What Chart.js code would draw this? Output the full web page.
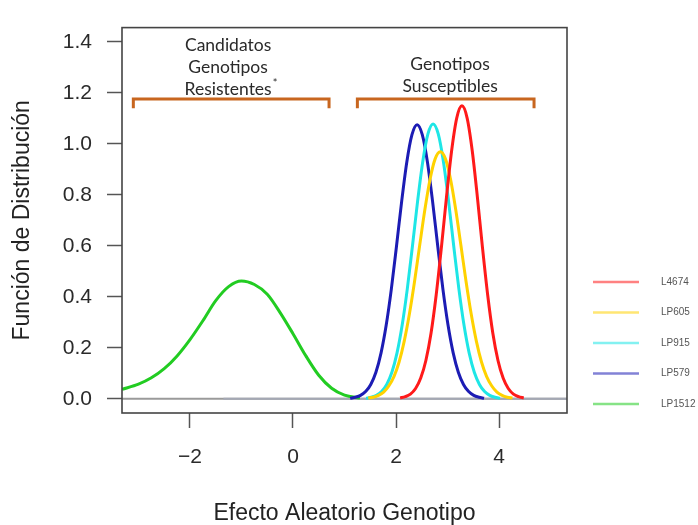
<!DOCTYPE html>
<html>
<head>
<meta charset="utf-8">
<script src="https://cdn.jsdelivr.net/npm/chart.js@4"></script>
<style>
  body { margin: 0; background: #fff; }
  canvas { display: block; }
</style>
</head>
<body>
<canvas id="densidad" width="698" height="525"></canvas>
<script>
// series labels (legend order)
const seriesLabels = ["L4674", "LP605", "LP915", "LP579", "LP1512"];

// L4674 (rojo)
const redX = [2.08, 2.18, 2.28, 2.38, 2.48, 2.58, 2.68, 2.78, 2.88, 2.98, 3.08, 3.18, 3.28, 3.38, 3.48, 3.58, 3.68, 3.78, 3.88, 3.98, 4.08, 4.18, 4.28, 4.38, 4.48];
const redY = [0.003, 0.008, 0.018, 0.040, 0.081, 0.150, 0.257, 0.407, 0.591, 0.791, 0.973, 1.102, 1.149, 1.102, 0.973, 0.791, 0.591, 0.407, 0.257, 0.150, 0.081, 0.040, 0.018, 0.008, 0.003];

// LP605 (amarillo)
const yellowX = [1.46, 1.56, 1.66, 1.76, 1.86, 1.96, 2.06, 2.16, 2.26, 2.36, 2.46, 2.56, 2.66, 2.76, 2.86, 2.96, 3.06, 3.16, 3.26, 3.36, 3.46, 3.56, 3.66, 3.76, 3.86, 3.96, 4.06, 4.16, 4.26];
const yellowY = [0.003, 0.006, 0.013, 0.026, 0.050, 0.087, 0.144, 0.226, 0.332, 0.460, 0.602, 0.741, 0.860, 0.941, 0.969, 0.941, 0.860, 0.741, 0.602, 0.460, 0.332, 0.226, 0.144, 0.087, 0.050, 0.026, 0.013, 0.006, 0.003];

// LP915 (cian)
const cyanX = [1.42, 1.52, 1.62, 1.72, 1.82, 1.92, 2.02, 2.12, 2.22, 2.32, 2.42, 2.52, 2.62, 2.72, 2.82, 2.92, 3.02, 3.12, 3.22, 3.32, 3.42, 3.52, 3.62, 3.72, 3.82, 3.92, 4.02];
const cyanY = [0.002, 0.006, 0.013, 0.028, 0.056, 0.104, 0.180, 0.289, 0.432, 0.600, 0.776, 0.931, 1.039, 1.078, 1.039, 0.931, 0.776, 0.600, 0.432, 0.289, 0.180, 0.104, 0.056, 0.028, 0.013, 0.006, 0.002];

// LP579 (azul)
const blueX = [1.11, 1.21, 1.31, 1.41, 1.51, 1.61, 1.71, 1.81, 1.91, 2.01, 2.11, 2.21, 2.31, 2.41, 2.51, 2.61, 2.71, 2.81, 2.91, 3.01, 3.11, 3.21, 3.31, 3.41, 3.51, 3.61, 3.71];
const blueY = [0.002, 0.006, 0.013, 0.028, 0.056, 0.104, 0.180, 0.289, 0.431, 0.599, 0.774, 0.929, 1.036, 1.075, 1.036, 0.929, 0.774, 0.599, 0.431, 0.289, 0.180, 0.104, 0.056, 0.028, 0.013, 0.006, 0.002];

// LP1512 (verde)
const greenX = [-3.32, -3.0, -2.75, -2.5, -2.25, -2.0, -1.75, -1.5, -1.25, -1.0, -0.75, -0.5, -0.25, 0, 0.25, 0.5, 0.75, 1.0, 1.3];
const greenY = [0.037, 0.057, 0.082, 0.118, 0.168, 0.232, 0.306, 0.385, 0.440, 0.462, 0.448, 0.410, 0.338, 0.255, 0.168, 0.092, 0.041, 0.014, 0.003];

// zero baseline
const zeroX = [-3.32, 5.32];
const zeroY = [0, 0];
const tailX = [-1.35, 5.32];
const tailY = [0, 0];

// tick labels
const xTicks = [-2, 0, 2, 4];
const yTicks = [0, 0.2, 0.4, 0.6, 0.8, 1.0, 1.2, 1.4];

const toPoints = (xs, ys) => xs.map((x, i) => ({ x: x, y: ys[i] }));

const curveColors = ["#ff1a1a", "#ffd200", "#1ee6e6", "#1c1cb4", "#22cc22"];

const curve = (label, xs, ys, color) => ({
    label: label,
    data: toPoints(xs, ys),
    borderColor: color,
    borderWidth: 3,
    pointRadius: 0,
    cubicInterpolationMode: "monotone",
    fill: false
});

// brackets + group captions
const anotaciones = {
    id: "anotaciones",
    afterDatasetsDraw(chart) {
        const ctx = chart.ctx;
        const xs = chart.scales.x, ys = chart.scales.y;
        const bracket = (x0, x1) => {
            const yTop = ys.getPixelForValue(1.176);
            const yEnd = ys.getPixelForValue(1.14);
            ctx.beginPath();
            ctx.moveTo(xs.getPixelForValue(x0), yEnd);
            ctx.lineTo(xs.getPixelForValue(x0), yTop);
            ctx.lineTo(xs.getPixelForValue(x1), yTop);
            ctx.lineTo(xs.getPixelForValue(x1), yEnd);
            ctx.stroke();
        };
        ctx.save();
        ctx.strokeStyle = "#c8661f";
        ctx.lineWidth = 3;
        ctx.lineCap = "butt";
        bracket(-3.10, 0.70);
        bracket(1.25, 4.68);

        ctx.fillStyle = "#2a2a2a";
        ctx.font = "17.5px Lato, 'Open Sans', sans-serif";
        ctx.textAlign = "center";
        ctx.textBaseline = "middle";
        const leftX = xs.getPixelForValue(-1.26);
        ctx.fillText("Candidatos", leftX, ys.getPixelForValue(1.388));
        ctx.fillText("Genotipos", leftX, ys.getPixelForValue(1.301));
        ctx.fillText("Resistentes", leftX, ys.getPixelForValue(1.212));
        const w = ctx.measureText("Resistentes").width;
        ctx.font = "11px Lato, 'Open Sans', sans-serif";
        ctx.textAlign = "left";
        ctx.fillText("*", leftX + w / 2 + 1, ys.getPixelForValue(1.235));

        ctx.font = "17.5px Lato, 'Open Sans', sans-serif";
        ctx.textAlign = "center";
        const rightX = xs.getPixelForValue(3.05);
        ctx.fillText("Genotipos", rightX, ys.getPixelForValue(1.313));
        ctx.fillText("Susceptibles", rightX, ys.getPixelForValue(1.225));
        ctx.restore();
    }
};

// plot frame
const marco = {
    id: "marco",
    afterDraw(chart) {
        const a = chart.chartArea;
        const ctx = chart.ctx;
        ctx.save();
        ctx.strokeStyle = "#444";
        ctx.lineWidth = 1.6;
        ctx.strokeRect(a.left, a.top, a.right - a.left, a.bottom - a.top);
        ctx.restore();
    }
};

// small legend at the right, outside the frame
const leyenda = {
    id: "leyenda",
    afterDraw(chart) {
        const ctx = chart.ctx;
        ctx.save();
        ctx.font = "10px 'Liberation Sans', Arial, sans-serif";
        ctx.textBaseline = "middle";
        ctx.textAlign = "left";
        let row = 0;
        chart.data.datasets.forEach((ds) => {
            if (!ds.label) return;
            const y = 282 + row * 30.5;
            ctx.globalAlpha = 0.55;
            ctx.strokeStyle = ds.borderColor;
            ctx.lineWidth = 2.5;
            ctx.beginPath();
            ctx.moveTo(593, y);
            ctx.lineTo(639, y);
            ctx.stroke();
            ctx.globalAlpha = 1;
            ctx.fillStyle = "#555";
            ctx.fillText(ds.label, 661, y);
            row++;
        });
        ctx.restore();
    }
};

const ctx = document.getElementById("densidad").getContext("2d");
const grafico = new Chart(ctx, {
    type: "line",
    data: {
        datasets: [
            curve(seriesLabels[0], redX, redY, curveColors[0]),
            curve(seriesLabels[1], yellowX, yellowY, curveColors[1]),
            curve(seriesLabels[2], cyanX, cyanY, curveColors[2]),
            curve(seriesLabels[3], blueX, blueY, curveColors[3]),
            curve(seriesLabels[4], greenX, greenY, curveColors[4]),
            { data: toPoints(tailX, tailY), borderColor: "#a4a8b4", borderWidth: 2, pointRadius: 0 },
            { data: toPoints(zeroX, zeroY), borderColor: "#9a9a9a", borderWidth: 2, pointRadius: 0 }
        ]
    },
    plugins: [anotaciones, marco, leyenda],
    options: {
        responsive: false,
        animation: false,
        layout: { padding: { top: 13, right: 131, left: 0, bottom: 0 } },
        plugins: {
            legend: { display: false },
            tooltip: { enabled: false }
        },
        scales: {
            x: {
                type: "linear",
                min: -3.32,
                max: 5.32,
                afterFit: (scale) => { scale.height = 112; },
                afterBuildTicks: (scale) => { scale.ticks = xTicks.map((v) => ({ value: v })); },
                grid: { drawOnChartArea: false, drawTicks: true, tickLength: 15, tickColor: "#555", tickWidth: 1.5 },
                border: { display: false },
                ticks: {
                    padding: 17,
                    color: "#2a2a2a",
                    font: { family: "'Liberation Sans', Arial, sans-serif", size: 21 },
                    callback: (v) => (v < 0 ? "\u2212" + Math.abs(v) : String(v))
                },
                title: {
                    display: true,
                    text: "Efecto Aleatorio Genotipo",
                    color: "#222",
                    font: { family: "'Liberation Sans', Arial, sans-serif", size: 23, lineHeight: 1 },
                    padding: { top: 0, bottom: 0 }
                }
            },
            y: {
                type: "linear",
                min: -0.056,
                max: 1.456,
                afterFit: (scale) => { scale.width = 122; },
                afterBuildTicks: (scale) => { scale.ticks = yTicks.map((v) => ({ value: v })); },
                grid: { drawOnChartArea: false, drawTicks: true, tickLength: 15, tickColor: "#555", tickWidth: 1.5 },
                border: { display: false },
                ticks: {
                    padding: 15,
                    color: "#2a2a2a",
                    font: { family: "'Liberation Sans', Arial, sans-serif", size: 21 },
                    callback: (v) => v.toFixed(1)
                },
                title: {
                    display: true,
                    text: "Función de Distribución",
                    color: "#222",
                    font: { family: "'Liberation Sans', Arial, sans-serif", size: 23, lineHeight: 1 },
                    padding: { top: 11, bottom: 0 }
                }
            }
        }
    }
});
</script>
</body>
</html>
